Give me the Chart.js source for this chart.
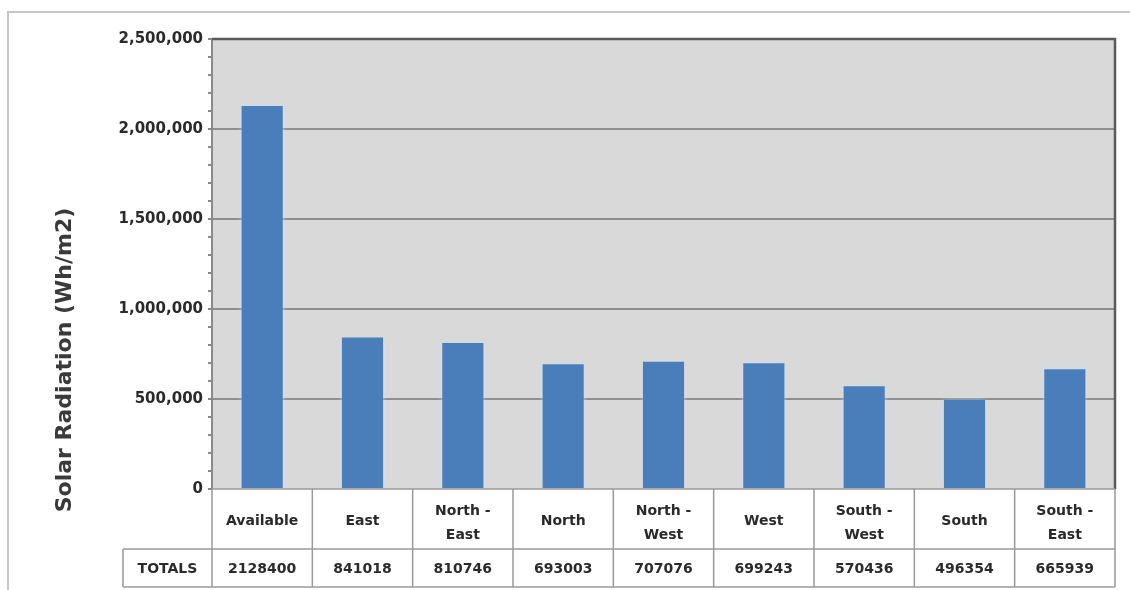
<!DOCTYPE html>
<html>
<head>
<meta charset="utf-8">
<script src="https://cdn.jsdelivr.net/npm/chart.js@4.4.1/dist/chart.umd.min.js"></script>
<style>
  html, body { margin: 0; padding: 0; background: #fff; }
  #wrap { width: 1130px; height: 590px; position: relative; }
</style>
</head>
<body>
<div id="wrap"><canvas id="myChart" width="1130" height="590"></canvas></div>
<script>
var categories = ['Available', 'East', ['North -', 'East'], 'North', ['North -', 'West'], 'West', ['South -', 'West'], 'South', ['South -', 'East']];
var totals = [2128400, 841018, 810746, 693003, 707076, 699243, 570436, 496354, 665939];
var rowLabel = 'TOTALS';
var axisTitle = 'Solar Radiation (Wh/m2)';

var fam = '"DejaVu Sans"';
var txtFont = 'bold 14px ' + fam;

// frame, y title and the data table under the plot
var tablePlugin = {
    id: 'tablePlugin',
    beforeDraw: function(chart) {
        var c = chart.ctx;
        c.save();
        c.strokeStyle = '#c6c6c6';
        c.lineWidth = 2;
        c.beginPath();
        c.moveTo(8, 590);
        c.lineTo(8, 12);
        c.lineTo(1130, 12);
        c.stroke();
        c.restore();
    },
    beforeDatasetsDraw: function(chart) {
        var c = chart.ctx;
        c.save();
        c.shadowColor = 'rgba(205,222,242,0.95)';
        c.shadowBlur = 5;
    },
    afterDatasetsDraw: function(chart) {
        chart.ctx.restore();
    },
    afterDraw: function(chart) {
        var c = chart.ctx;
        var a = chart.chartArea;
        var x = chart.scales.x;
        var top = a.bottom, mid = 549, bot = 587, labL = 123;
        var step = (a.right - a.left) / categories.length;
        c.save();
        // plot frame top/right
        c.strokeStyle = '#5a5a5a';
        c.lineWidth = 2.5;
        c.beginPath();
        c.moveTo(a.left, a.top);
        c.lineTo(a.right, a.top);
        c.lineTo(a.right, a.bottom);
        c.stroke();
        // table grid
        c.strokeStyle = '#9a9a9a';
        c.lineWidth = 1.5;
        c.beginPath();
        c.moveTo(a.left, top); c.lineTo(a.right, top);
        c.moveTo(labL, mid); c.lineTo(a.right, mid);
        c.moveTo(labL, bot); c.lineTo(a.right, bot);
        c.moveTo(labL, mid); c.lineTo(labL, bot);
        for (var i = 0; i <= categories.length; i++) {
            var px = a.left + step * i;
            c.moveTo(px, top); c.lineTo(px, bot);
        }
        c.stroke();
        // texts
        c.fillStyle = '#2a2a2a';
        c.font = txtFont;
        c.textAlign = 'center';
        c.textBaseline = 'middle';
        for (var j = 0; j < categories.length; j++) {
            var cx = x.getPixelForTick(j);
            var lab = categories[j];
            if (Array.isArray(lab)) {
                c.fillText(lab[0], cx, 511);
                c.fillText(lab[1], cx, 535);
            } else {
                c.fillText(lab, cx, 521);
            }
            c.fillText(String(totals[j]), cx, 569);
        }
        c.fillText(rowLabel, (labL + a.left) / 2, 569);
        // y title
        c.translate(65, 360);
        c.rotate(-Math.PI / 2);
        c.font = 'bold 22px ' + fam;
        c.fillStyle = '#3a3a3a';
        c.fillText(axisTitle, 0, 0);
        c.restore();
    }
};

var ctx = document.getElementById('myChart').getContext('2d');
var myChart = new Chart(ctx, {
    type: 'bar',
    data: {
        labels: categories,
        datasets: [{
            label: 'Solar Radiation',
            data: totals,
            backgroundColor: '#4a7ebb',
            categoryPercentage: 1,
            barPercentage: 0.41
        }]
    },
    options: {
        responsive: false,
        animation: false,
        layout: { padding: { left: 0, top: 39, right: 15, bottom: 101 } },
        plugins: {
            legend: { display: false },
            tooltip: { enabled: false }
        },
        scales: {
            x: { display: false },
            y: {
                min: 0,
                max: 2500000,
                afterFit: function(s) { s.width = 212; },
                border: { display: true, color: '#8a8a8a', width: 2 },
                grid: {
                    color: function(ctx) {
                        return ctx.tick && ctx.tick.value % 500000 === 0 && ctx.tick.value > 0 ? '#8e8e8e' : 'rgba(0,0,0,0)';
                    },
                    tickColor: '#8a8a8a',
                    lineWidth: 2,
                    tickLength: 4
                },
                ticks: {
                    stepSize: 100000,
                    autoSkip: false,
                    padding: 5,
                    color: '#2a2a2a',
                    font: { family: 'DejaVu Sans', size: 15, weight: 'bold' },
                    callback: function(v) {
                        return v % 500000 === 0 ? v.toLocaleString('en-US') : '';
                    }
                }
            }
        }
    },
    plugins: [{
        id: 'chartAreaBg',
        beforeDraw: function(chart) {
            var a = chart.chartArea;
            chart.ctx.save();
            chart.ctx.fillStyle = '#d9d9d9';
            chart.ctx.fillRect(a.left, a.top, a.right - a.left, a.bottom - a.top);
            chart.ctx.restore();
        }
    }, tablePlugin]
});
</script>
</body>
</html>
